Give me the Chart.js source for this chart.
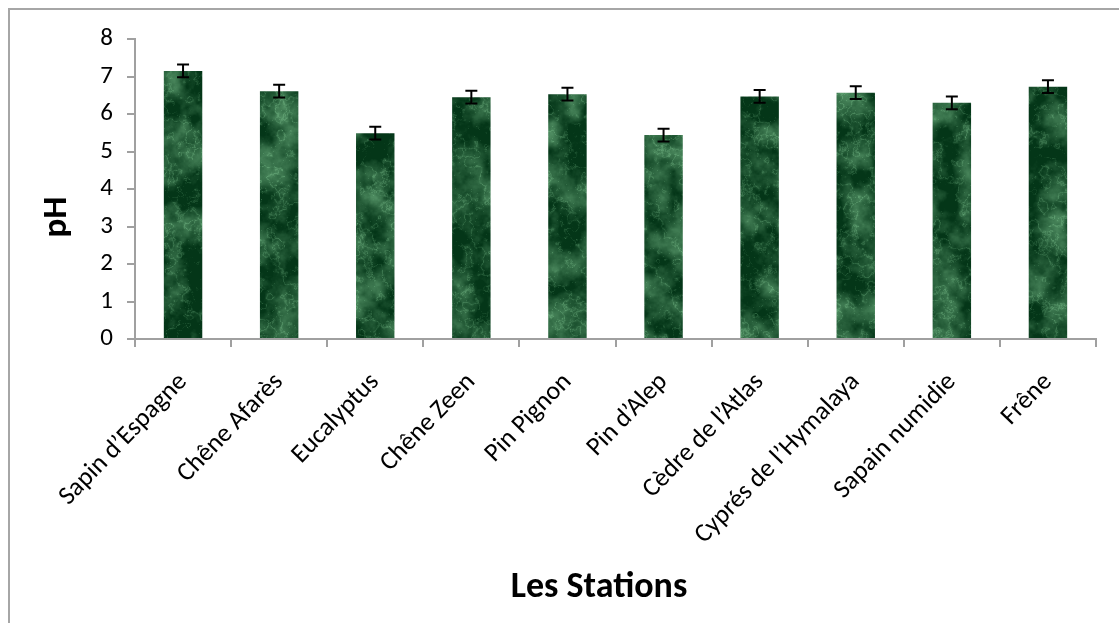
<!DOCTYPE html>
<html>
<head>
<meta charset="utf-8">
<script src="https://cdn.jsdelivr.net/npm/chart.js@4.4.1/dist/chart.umd.min.js"></script>
<style>
  html, body { margin: 0; padding: 0; background: #fff; overflow: hidden; width: 1119px; height: 623px; }
  #frame { position: absolute; left: 8px; top: 8px; width: 1200px; height: 700px; border: 2px solid #a6a6a6; }
  #c { position: absolute; left: 0; top: 0; }
</style>
</head>
<body>
<div id="frame"></div>
<canvas id="c" width="1119" height="623"></canvas>
<script>
const categories = ["Sapin d’Espagne", "Chêne Afarès", "Eucalyptus", "Chêne Zeen", "Pin Pignon",
  "Pin d’Alep", "Cèdre de l’Atlas", "Cyprés de l’Hymalaya", "Sapain numidie", "Frêne"];
const phValues = [7.15, 6.61, 5.49, 6.45, 6.53, 5.44, 6.47, 6.57, 6.30, 6.73];
const phErrors = [0.17, 0.17, 0.17, 0.17, 0.17, 0.17, 0.17, 0.17, 0.17, 0.17];
const yTicks = [0, 1, 2, 3, 4, 5, 6, 7, 8];
const xTitle = "Les Stations";
const yTitle = "pH";

const FONT = "Carlito, Lato, 'Liberation Sans', sans-serif";

// deterministic marble-like texture for the bars (style only)
function makeMarble() {
  const w = 1119, h = 360;
  const cv = document.createElement('canvas');
  cv.width = w; cv.height = h;
  const cx = cv.getContext('2d');
  const img = cx.createImageData(w, h);
  function hash(x, y) {
    let n = (Math.imul(x, 374761393) + Math.imul(y, 668265263)) | 0;
    n = Math.imul(n ^ (n >>> 13), 1274126177);
    return ((n ^ (n >>> 16)) >>> 0) / 4294967295;
  }
  function smooth(t) { return t * t * (3 - 2 * t); }
  function vnoise(x, y) {
    const xi = Math.floor(x), yi = Math.floor(y);
    const xf = smooth(x - xi), yf = smooth(y - yi);
    const a = hash(xi, yi), b = hash(xi + 1, yi), c = hash(xi, yi + 1), d = hash(xi + 1, yi + 1);
    return a + (b - a) * xf + (c - a) * yf + (a - b - c + d) * xf * yf;
  }
  function fbm(x, y) {
    let s = 0, amp = 0.5, f = 1;
    for (let i = 0; i < 5; i++) { s += amp * vnoise(x * f + i * 17, y * f + i * 31); amp *= 0.5; f *= 2.03; }
    return s;
  }
  for (let y = 0; y < h; y++) {
    for (let x = 0; x < w; x++) {
      const n = fbm(x / 22, y / 22);
      const m = fbm(x / 9 + 50, y / 9 + 70);
      const vein = 1 - Math.abs(Math.sin(x * 0.06 - y * 0.04 + m * 7));
      let t = (n - 0.5) * 1.7 + 0.28 + Math.pow(vein, 4) * 0.36;
      if (hash(x * 7 + 3, y * 5 + 11) > 0.99) t += 0.2;
      t = Math.max(0, Math.min(1, t));
      const i = (y * w + x) * 4;
      img.data[i] = 4 + t * 88;
      img.data[i + 1] = 54 + t * 102;
      img.data[i + 2] = 24 + t * 86;
      img.data[i + 3] = 255;
    }
  }
  cx.putImageData(img, 0, 0);
  return cx.createPattern(cv, 'repeat');
}

const errorBars = {
  id: 'errorBars',
  afterDatasetsDraw(chart) {
    const ctx = chart.ctx;
    const meta = chart.getDatasetMeta(0);
    const ys = chart.scales.y;
    ctx.save();
    ctx.strokeStyle = '#000';
    ctx.lineWidth = 2;
    meta.data.forEach((bar, i) => {
      const x = bar.x;
      const yHi = ys.getPixelForValue(phValues[i] + phErrors[i]);
      const yLo = ys.getPixelForValue(phValues[i] - phErrors[i]);
      ctx.beginPath();
      ctx.moveTo(x, yHi); ctx.lineTo(x, yLo);
      ctx.moveTo(x - 6, yHi); ctx.lineTo(x + 6, yHi);
      ctx.moveTo(x - 6, yLo); ctx.lineTo(x + 6, yLo);
      ctx.stroke();
    });
    ctx.restore();
  }
};

const axisTitles = {
  id: 'axisTitles',
  afterDraw(chart) {
    const ctx = chart.ctx;
    ctx.save();
    ctx.fillStyle = '#000';
    ctx.font = "bold 36px " + FONT;
    ctx.textAlign = 'center';
    ctx.textBaseline = 'middle';
    ctx.fillText(xTitle, 599, 588);
    ctx.font = "bold 35px " + FONT;
    ctx.translate(57, 217);
    ctx.rotate(-Math.PI / 2);
    ctx.fillText(yTitle, 0, 0);
    ctx.restore();
  }
};

const ctx = document.getElementById('c').getContext('2d');
new Chart(ctx, {
  type: 'bar',
  data: {
    labels: categories,
    datasets: [{
      data: phValues,
      backgroundColor: makeMarble(),
      borderWidth: 0,
      barPercentage: 0.8,
      categoryPercentage: 0.5
    }]
  },
  options: {
    responsive: false,
    animation: false,
    layout: { padding: { top: 39, right: 23, left: 0, bottom: 0 } },
    plugins: { legend: { display: false }, tooltip: { enabled: false } },
    scales: {
      x: {
        offset: true,
        afterFit(s) { s.height = 623 - 339; },
        grid: { offset: true, drawOnChartArea: false, drawTicks: true, tickLength: 8, color: '#a0a0a0', lineWidth: 2 },
        border: { color: '#a0a0a0', width: 2 },
        ticks: {
          color: '#000',
          font: { family: FONT, size: 26 },
          maxRotation: 46, minRotation: 46,
          padding: 20,
          autoSkip: false
        }
      },
      y: {
        min: 0, max: 8,
        afterFit(s) { s.width = 135; },
        afterBuildTicks(s) { s.ticks = yTicks.map(v => ({ value: v })); },
        grid: { drawOnChartArea: false, drawTicks: true, tickLength: 8, color: '#a0a0a0', lineWidth: 2 },
        border: { color: '#a0a0a0', width: 2 },
        ticks: {
          color: '#000',
          font: { family: FONT, size: 25 },
          padding: 14
        }
      }
    }
  },
  plugins: [errorBars, axisTitles]
});
</script>
</body>
</html>
